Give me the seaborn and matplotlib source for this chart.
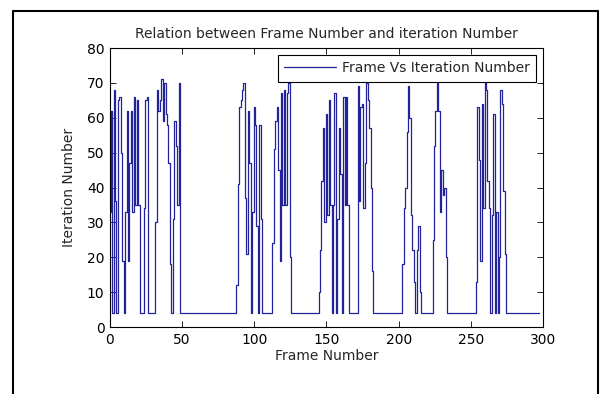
import matplotlib
matplotlib.use('Agg')
import matplotlib.pyplot as plt
import seaborn as sns
import pandas as pd
from matplotlib.lines import Line2D

# Iteration number per frame (frames 0..297)
iterations = [
    33, 62, 4, 68, 36, 4, 65, 66, 50, 19,
    4, 33, 62, 19, 47, 62, 33, 66, 35, 65,
    35, 4, 4, 4, 34, 65, 66, 4, 4, 4,
    4, 4, 30, 68, 62, 65, 71, 59, 70, 61,
    58, 47, 18, 4, 31, 59, 52, 35, 70, 4,
    4, 4, 4, 4, 4, 4, 4, 4, 4, 4,
    4, 4, 4, 4, 4, 4, 4, 4, 4, 4,
    4, 4, 4, 4, 4, 4, 4, 4, 4, 4,
    4, 4, 4, 4, 4, 4, 4, 4,
    12, 41, 63, 65, 68, 70, 37, 21, 62, 47,
    4, 33, 63, 58, 29, 4, 58, 31, 4, 4,
    4, 4, 4, 4, 4, 24, 51, 59, 63, 45,
    19, 67, 35, 68, 35, 67, 70, 20, 4, 4,
    4, 4, 4, 4, 4, 4, 4, 4, 4, 4,
    4, 4, 4, 4, 4, 4, 4,
    10, 22, 42, 57, 30, 61, 32, 65, 35, 4,
    35, 67, 4, 31, 57, 44, 4, 66, 35, 66,
    35, 4, 4, 4, 4, 4, 4, 69, 36, 63,
    64, 34, 47, 70, 65, 57, 40, 16, 4, 4,
    4, 4, 4, 4, 4, 4, 4, 4, 4, 4,
    4, 4, 4, 4, 4, 4, 4, 4,
    18, 34, 40, 56, 69, 60, 32, 22, 13, 4,
    22, 29, 10, 4, 4, 4, 4, 4, 4, 4,
    4, 25, 52, 62, 70, 62, 33, 45, 38, 40,
    20, 4, 4, 4, 4, 4, 4, 4, 4, 4,
    4, 4, 4, 4, 4, 4, 4, 4, 4, 4,
    4, 13, 63, 48, 19, 64, 34, 71, 68, 42,
    34, 4, 32, 61, 4, 33, 4, 20, 68, 64,
    39, 21, 4, 4, 4, 4, 4, 4, 4, 4,
    4, 4, 4, 4, 4, 4, 4, 4, 4, 4,
    4, 4, 4, 4, 4,
]
frames = list(range(len(iterations)))
x_ticks = [0, 50, 100, 150, 200, 250, 300]
y_ticks = [0, 10, 20, 30, 40, 50, 60, 70, 80]

sns.set_style("ticks")
plt.rcParams['font.family'] = ['DejaVu Sans']

FS = 10

fig = plt.figure(figsize=(6.06, 3.94), dpi=100)
fig.patch.set_facecolor('white')
ax = fig.add_axes([0.1815, 0.170, 0.7145, 0.708])

df = pd.DataFrame({'Frame Number': frames, 'Iteration Number': iterations})
sns.lineplot(data=df, x='Frame Number', y='Iteration Number', ax=ax,
             color='#22229a', linewidth=0.9, label='Frame Vs Iteration Number',
             drawstyle='steps-mid')

ax.set_xlim(0, 300)
ax.set_ylim(0, 80)
ax.set_xticks(x_ticks)
ax.set_yticks(y_ticks)
ax.tick_params(direction='in', top=True, right=True, length=4, width=0.6,
               labelsize=FS, pad=4, colors='black')
for s in ax.spines.values():
    s.set_visible(True)
    s.set_linewidth(0.8)
    s.set_color('black')

ax.set_title('Relation between Frame Number and iteration Number', fontsize=FS, pad=7)
ax.set_xlabel('Frame Number', fontsize=FS, labelpad=2)
ax.set_ylabel('Iteration Number', fontsize=FS, labelpad=8)

leg = ax.legend(loc='upper right', fontsize=FS, frameon=True, fancybox=False,
                edgecolor='black', framealpha=1, handlelength=3.7,
                borderaxespad=0.5, borderpad=0.45, handletextpad=0.45)
leg.get_frame().set_linewidth(0.8)

# outer border of the figure
fig.add_artist(Line2D([13/606, 13/606, 598/606, 598/606], [0, 1 - 11/394, 1 - 11/394, 0],
                      transform=fig.transFigure, color='black', linewidth=1.5))

fig.savefig('out.png', dpi=100)
